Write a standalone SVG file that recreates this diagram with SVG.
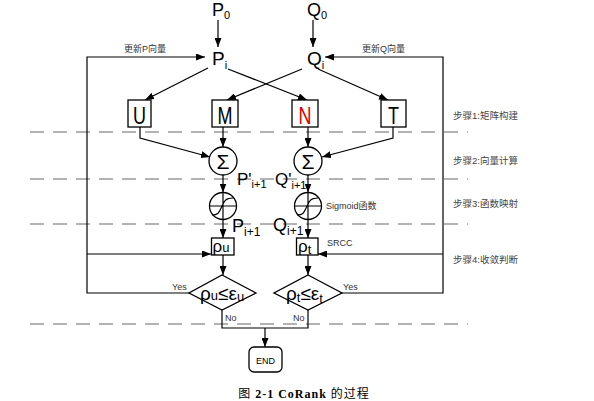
<svg xmlns="http://www.w3.org/2000/svg" width="594" height="401" viewBox="0 0 594 401">
<defs>
<marker id="ah" markerUnits="userSpaceOnUse" markerWidth="9" markerHeight="7" refX="9" refY="3.5" orient="auto"><path d="M0,0 L9,3.5 L0,7 z" fill="#000"/></marker>
<style>
.ln{fill:none;stroke:#000;stroke-width:1.2}
.ar{fill:none;stroke:#000;stroke-width:1.2;marker-end:url(#ah)}
.box{fill:#fff;stroke:#000;stroke-width:1.3}
.dash{stroke:#666;stroke-width:1;stroke-dasharray:14 9}
.t{font-family:"Liberation Sans",Arial,sans-serif;fill:#000}
.s{font-family:"Liberation Sans","Noto Sans CJK SC",sans-serif;fill:#333;font-size:9px}
.st{font-family:"Liberation Sans","Noto Sans CJK SC",sans-serif;fill:#444;font-size:9.5px}
</style>
</defs>
<rect width="594" height="401" fill="#fff"/>
<g id="dashes">
<line class="dash" x1="30" y1="132" x2="468" y2="132"/>
<line class="dash" x1="30" y1="179" x2="468" y2="179"/>
<line class="dash" x1="30" y1="224" x2="468" y2="224"/>
<line class="dash" x1="30" y1="324" x2="468" y2="324"/>
</g>
<g id="connectors">
<line class="ar" x1="218" y1="20" x2="218" y2="47"/>
<line class="ar" x1="313" y1="20" x2="313" y2="47"/>
<polyline class="ar" points="189,293 87,293 87,57 205,57"/>
<line class="ar" x1="87" y1="254" x2="211" y2="254"/>
<polyline class="ar" points="341,293 443,293 443,57 325,57"/>
<line class="ar" x1="443" y1="254" x2="318" y2="254"/>
<line class="ar" x1="208" y1="68" x2="145" y2="100"/>
<line class="ar" x1="228" y1="69" x2="307" y2="100"/>
<line class="ar" x1="302" y1="69" x2="227" y2="100"/>
<line class="ar" x1="318" y1="69" x2="388" y2="100"/>
<polyline class="ar" points="140,127 140,138 210,157"/>
<line class="ar" x1="223" y1="127" x2="223" y2="147"/>
<line class="ar" x1="308" y1="127" x2="308" y2="147"/>
<polyline class="ar" points="393,127 393,138 322,157"/>
<line class="ar" x1="223" y1="175" x2="223" y2="192.5"/>
<line class="ar" x1="308" y1="175" x2="308" y2="192.5"/>
<line class="ar" x1="223" y1="219.5" x2="223" y2="238"/>
<line class="ar" x1="308" y1="219.5" x2="308" y2="238"/>
<line class="ar" x1="223" y1="255" x2="223" y2="275"/>
<line class="ar" x1="308" y1="255" x2="308" y2="275"/>
<polyline class="ln" points="222,310 222,328 308,328 308,310"/>
<line class="ar" x1="265" y1="328" x2="265" y2="347"/>
</g>
<g id="P0"><text class="t" x="212" y="16" font-size="18">P<tspan font-size="11" dy="2.5">0</tspan></text></g>
<g id="Q0"><text class="t" x="307" y="16" font-size="18">Q<tspan font-size="11" dy="2.5">0</tspan></text></g>
<g id="Pi"><text class="t" x="212" y="65" font-size="19">P<tspan font-size="11" dy="4">i</tspan></text></g>
<g id="Qi"><text class="t" x="307" y="65" font-size="19">Q<tspan font-size="11" dy="4">i</tspan></text></g>
<g id="lblP"><text class="s" x="124" y="52">更新P向量</text></g>
<g id="lblQ"><text class="s" x="362" y="52">更新Q向量</text></g>
<g id="U"><rect class="box" x="128" y="100" width="23" height="27"/><text class="t" font-size="18" text-anchor="middle" transform="translate(139.5,124) scale(1,1.3)">U</text></g>
<g id="M"><rect class="box" x="212" y="100" width="26" height="27"/><text class="t" font-size="18" text-anchor="middle" transform="translate(225,124) scale(1,1.3)">M</text></g>
<g id="N"><rect class="box" x="292" y="100" width="26" height="27"/><text class="t" font-size="18" text-anchor="middle" transform="translate(305,124) scale(1,1.3)" style="fill:#e00000">N</text></g>
<g id="T"><rect class="box" x="381" y="100" width="25" height="27"/><text class="t" font-size="18" text-anchor="middle" transform="translate(393.5,124) scale(1,1.3)">T</text></g>
<g id="sumP"><circle class="box" cx="223" cy="161" r="14"/><text class="t" x="223" y="168.5" font-size="21" text-anchor="middle">Σ</text></g>
<g id="sumQ"><circle class="box" cx="308" cy="161" r="14"/><text class="t" x="308" y="168.5" font-size="21" text-anchor="middle">Σ</text></g>
<g id="Pp"><text class="t" x="237" y="185" font-size="17">P'<tspan font-size="11" dy="3">i+1</tspan></text></g>
<g id="Qp"><text class="t" x="275" y="185" font-size="17">Q'<tspan font-size="11" dy="4">i+1</tspan></text></g>
<g id="sigP"><circle class="box" cx="223" cy="206" r="13.5"/><path class="ln" d="M210,206 H236 M223,193 V219 M212,215 C219,215 219,212 222,206 C225,200 226,198 233,198"/></g>
<g id="sigQ"><circle class="box" cx="308" cy="206" r="13.5"/><path class="ln" d="M295,206 H321 M308,193 V219 M297,215 C304,215 304,212 307,206 C310,200 311,198 318,198"/></g>
<g id="sigLbl"><text class="s" x="326" y="209" font-size="8.5">Sigmoid函数</text></g>
<g id="P1"><text class="t" x="232" y="232" font-size="18">P<tspan font-size="12" dy="4">i+1</tspan></text></g>
<g id="Q1"><text class="t" x="273" y="231" font-size="18">Q<tspan font-size="12" dy="4">i+1</tspan></text></g>
<g id="rhoU"><rect class="box" x="211.5" y="238" width="22.5" height="17"/><text class="t" x="212.5" y="252" font-size="17">ρ<tspan font-size="13" dy="0">u</tspan></text></g>
<g id="rhoT"><rect class="box" x="296.5" y="238" width="21.5" height="17"/><text class="t" x="298" y="252" font-size="17">ρ<tspan font-size="13" dy="2">t</tspan></text></g>
<g id="srcc"><text class="s" x="327" y="246">SRCC</text></g>
<g id="dU"><polygon class="box" points="222,275 256,293 222,310 189,293"/><text class="t" x="200" y="300" font-size="19">ρ<tspan font-size="13">u</tspan>≤ε<tspan font-size="13" dy="1">u</tspan></text></g>
<g id="dT"><polygon class="box" points="308,275 342,293 308,310 274,293"/><text class="t" x="286" y="300" font-size="19">ρ<tspan font-size="13" dy="2">t</tspan><tspan dy="-2">≤ε</tspan><tspan font-size="13" dy="3">t</tspan></text></g>
<g id="yes"><text class="s" x="172" y="290">Yes</text><text class="s" x="343" y="290">Yes</text></g>
<g id="no"><text class="s" x="225" y="321">No</text><text class="s" x="293" y="321">No</text></g>
<g id="END"><rect class="box" x="249" y="347" width="33" height="25" rx="5"/><text class="t" x="265.5" y="363.5" font-size="9" text-anchor="middle">END</text></g>
<g id="steps">
<text class="st" x="453" y="119">步骤1:矩阵构建</text>
<text class="st" x="453" y="164">步骤2:向量计算</text>
<text class="st" x="453" y="207">步骤3:函数映射</text>
<text class="st" x="453" y="263">步骤4:收敛判断</text>
</g>
<g id="caption"><text x="304" y="398" font-size="12" text-anchor="middle" letter-spacing="1" style="font-family:'Liberation Serif','Noto Sans CJK SC',serif">图 <tspan font-weight="bold">2-1 CoRank</tspan> 的过程</text></g>
</svg>
